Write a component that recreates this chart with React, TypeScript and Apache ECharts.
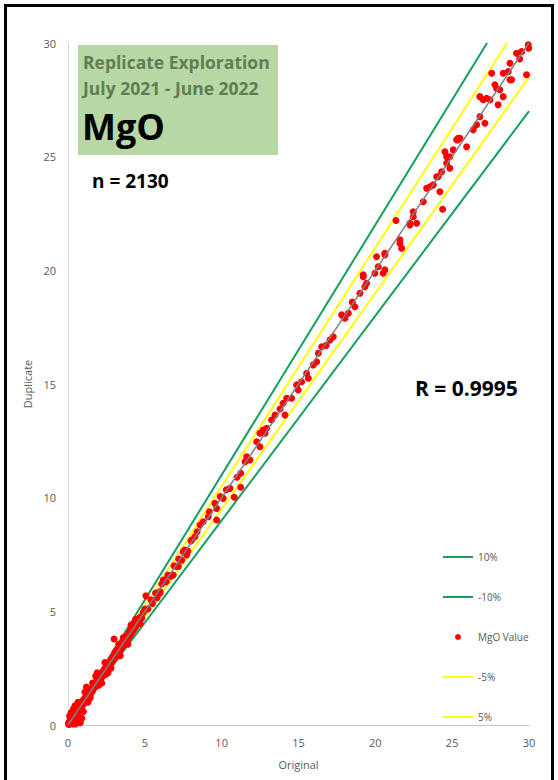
import React, { useEffect, useRef } from "react";
import * as echarts from "echarts";

const xTicks = [0, 5, 10, 15, 20, 25, 30];

const mgoValues: number[][] = [
  [0.02, 0.05], [0.05, 0.1], [0.06, 0.02], [0.08, 0.12], [0.1, 0.06], [0.12, 0.18], [0.14, 0.1], [0.15, 0.25],
  [0.18, 0.14], [0.2, 0.3], [0.21, 0.2], [0.24, 0.16], [0.25, 0.35], [0.27, 0.28], [0.3, 0.22], [0.31, 0.4],
  [0.33, 0.32], [0.36, 0.45], [0.38, 0.3], [0.4, 0.38], [0.42, 0.55], [0.44, 0.4], [0.46, 0.5], [0.48, 0.36],
  [0.5, 0.6], [0.52, 0.48], [0.55, 0.55], [0.57, 0.7], [0.6, 0.5], [0.62, 0.65], [0.64, 0.58], [0.66, 0.75],
  [0.7, 0.66], [0.72, 0.8], [0.74, 0.62], [0.76, 0.72], [0.8, 0.9], [0.82, 0.75], [0.85, 0.82], [0.88, 0.95],
  [0.9, 0.8], [0.93, 0.9], [0.96, 1.05], [0.98, 0.92], [0.2, 0.55], [0.35, 0.7], [0.6, 0.15], [0.8, 0.1],
  [0.5, 0.05], [0.9, 0.3], [0.1, 0.4], [0.3, 0.05], [0.45, 0.85], [0.7, 0.35], [0.65, 1.0], [1.0, 0.6],
  [1.0, 1.1], [1.05, 0.95], [1.1, 1.2], [1.15, 1.05], [1.2, 1.3], [1.25, 1.15], [1.3, 1.4], [1.35, 1.25],
  [1.4, 1.35], [1.45, 1.55], [1.5, 1.4], [1.55, 1.6], [1.6, 1.5], [1.65, 1.7], [1.7, 1.62], [1.75, 1.85],
  [1.8, 1.7], [1.85, 1.8], [1.9, 2.0], [1.95, 1.85], [2.0, 2.1], [2.05, 1.95], [2.1, 2.2], [2.15, 2.05],
  [2.2, 2.3], [2.25, 2.15], [2.3, 2.4], [2.35, 2.2], [2.4, 2.5], [2.45, 2.35], [2.5, 2.6], [2.55, 2.45],
  [2.6, 2.7], [2.65, 2.55], [2.7, 2.75], [2.75, 2.6], [2.8, 2.9], [2.85, 2.75], [2.9, 3.0], [2.95, 2.85],
  [1.2, 1.67], [2.2, 1.85], [1.8, 2.15], [2.6, 2.3], [3.0, 3.1], [1.3, 1.0], [1.6, 1.85], [2.0, 1.75],
  [2.4, 2.75], [1.1, 1.45], [1.45, 1.2], [2.8, 2.5], [1.9, 2.3], [2.5, 2.25],
  [3.0, 2.9], [3.05, 3.2], [3.1, 3.0], [3.15, 3.3], [3.2, 3.1], [3.25, 3.35], [3.3, 3.2], [3.35, 3.45],
  [3.4, 3.3], [3.45, 3.55], [3.5, 3.4], [3.55, 3.6], [3.6, 3.5], [3.65, 3.75], [3.7, 3.6], [3.75, 3.85],
  [3.8, 3.7], [3.85, 3.9], [3.9, 3.8], [3.95, 4.05], [4.0, 3.9], [4.05, 4.15], [4.1, 4.0], [4.15, 4.25],
  [4.2, 4.1], [4.25, 4.3], [4.3, 4.2], [4.35, 4.45], [4.4, 4.3], [4.5, 4.55], [4.6, 4.5], [4.7, 4.75],
  [4.8, 4.7], [4.9, 4.95], [3.0, 3.78], [3.4, 3.05], [4.1, 4.4], [4.58, 4.55], [3.6, 3.85], [3.9, 3.55],
  [3.3, 3.55], [4.4, 4.65], [4.7, 4.45],
  [5.0, 5.1], [5.07, 5.68], [5.2, 5.1], [5.4, 5.5], [5.5, 5.35], [5.7, 5.8], [5.8, 5.6], [5.99, 5.87],
  [6.1, 6.2], [6.2, 6.38], [6.4, 6.3], [6.5, 6.6], [6.7, 6.55], [6.9, 7.0], [7.07, 6.97], [7.2, 7.3],
  [7.4, 7.25], [7.6, 7.7], [7.8, 7.65], [8.0, 8.1], [5.99, 5.8], [6.3, 6.38], [6.85, 6.6], [7.18, 6.97],
  [7.5, 7.62], [7.72, 7.48], [8.05, 8.14], [8.26, 8.28], [8.59, 8.8], [8.8, 8.94], [9.13, 9.16], [9.2, 9.38],
  [9.56, 9.75], [9.67, 9.02], [9.67, 9.53], [10.1, 9.97], [10.54, 10.41], [10.82, 10.02], [11.24, 10.46],
  [11.24, 11.07], [11.52, 11.58], [11.63, 11.8], [11.84, 11.66], [12.28, 12.46], [12.49, 12.24],
  [12.82, 12.83], [12.93, 13.05], [8.4, 8.5], [9.9, 10.05], [10.3, 10.35], [11.0, 10.9],
  [12.49, 12.83], [12.7, 12.98], [13.25, 13.42], [13.47, 13.64], [14.0, 14.15], [14.23, 14.37], [14.12, 13.64],
  [14.55, 14.37], [14.88, 14.96], [14.98, 14.74], [15.53, 15.47], [15.64, 15.25], [15.96, 15.84],
  [16.18, 15.98], [16.29, 16.35], [16.51, 16.64], [17.05, 16.94], [17.26, 17.08], [17.81, 18.04],
  [18.02, 17.89], [18.24, 18.11], [18.67, 18.4], [19.0, 18.99], [19.21, 19.8], [19.32, 19.28], [19.43, 19.43],
  [13.8, 13.9], [15.2, 15.1], [16.8, 16.7], [18.5, 18.6],
  [19.21, 19.72], [19.97, 19.87], [20.08, 20.6], [20.19, 20.16], [20.62, 20.68], [20.51, 19.87],
  [21.6, 21.19], [21.71, 20.97], [21.34, 22.19], [22.25, 22.0], [22.47, 22.36], [22.69, 22.07],
  [23.12, 23.02], [23.34, 23.61], [23.77, 23.76], [24.2, 23.46], [24.09, 24.12], [24.38, 22.69],
  [24.31, 24.34], [24.64, 24.71], [24.85, 25.0], [24.53, 25.22], [25.07, 25.3], [25.29, 25.74], [25.5, 25.81],
  [20.62, 20.75], [20.62, 20.02], [21.6, 21.34], [22.25, 22.07], [22.47, 22.58], [23.55, 23.68],
  [23.99, 24.12], [24.85, 24.49], [24.64, 25.0], [25.94, 25.44], [25.39, 25.74],
  [25.39, 25.81], [26.37, 26.18], [26.59, 26.4], [27.13, 26.47], [26.81, 26.76], [27.24, 27.57],
  [27.46, 27.5], [27.99, 27.28], [28.1, 27.94], [28.32, 27.64], [27.78, 28.16], [27.57, 28.67],
  [28.32, 28.67], [28.65, 28.74], [28.87, 28.38], [29.84, 28.6], [29.19, 29.55], [29.52, 29.62],
  [29.95, 29.92], [29.98, 29.77], [28.76, 29.11], [26.8, 27.64], [27.02, 27.5], [27.89, 28.0],
  [28.76, 28.38], [29.4, 29.3]
];

const plus10: number[][] = [[0, 0], [27.27, 30]];
const minus10: number[][] = [[0, 0], [30, 27]];
const plus5: number[][] = [[0, 0], [28.57, 30]];
const minus5: number[][] = [[0, 0], [30, 28.5]];
const unity: number[][] = [[0, 0], [30, 30]];

const GREEN = "#14a05a";
const YELLOW = "#ffff00";
const FONT = "Open Sans";

export default function App() {
  const ref = useRef<HTMLDivElement>(null);
  useEffect(() => {
    if (!ref.current) return;
    const chart = echarts.init(ref.current, null, { renderer: "svg" });
    const hideSym = { itemStyle: { opacity: 0 } };
    chart.setOption({
      animation: false,
      backgroundColor: "#ffffff",
      textStyle: { fontFamily: FONT },
      grid: { left: 68, right: 29, top: 43, bottom: 55 },
      xAxis: {
        type: "value",
        min: xTicks[0],
        max: xTicks[xTicks.length - 1],
        interval: 5,
        name: "Original",
        nameLocation: "middle",
        nameGap: 34,
        nameTextStyle: { color: "#595959", fontSize: 11, fontFamily: FONT },
        axisLine: { show: true, lineStyle: { color: "#c8c8c8", width: 1 } },
        axisTick: { show: false },
        splitLine: { show: false },
        axisLabel: { color: "#595959", fontSize: 11, margin: 12, fontFamily: FONT },
      },
      yAxis: {
        type: "value",
        min: 0,
        max: 30,
        interval: 5,
        name: "Duplicate",
        nameLocation: "middle",
        nameGap: 32,
        nameRotate: 90,
        nameTextStyle: { color: "#595959", fontSize: 11, fontFamily: FONT },
        axisLine: { show: true, lineStyle: { color: "#d9d9d9", width: 1 } },
        axisTick: { show: false },
        splitLine: { show: false },
        axisLabel: { color: "#595959", fontSize: 11, margin: 12, fontFamily: FONT },
      },
      legend: {
        orient: "vertical",
        left: 437,
        top: 545,
        itemWidth: 30,
        itemHeight: 6,
        itemGap: 26,
        data: [
          { name: "10%", ...hideSym },
          { name: "-10%", ...hideSym },
          { name: "MgO Value" },
          { name: "-5%", ...hideSym },
          { name: "5%", ...hideSym },
        ],
        textStyle: { color: "#595959", fontSize: 10, lineHeight: 14, fontFamily: FONT },
      },
      series: [
        { name: "10%", type: "line", data: plus10, symbol: "none", lineStyle: { color: GREEN, width: 2 }, itemStyle: { color: GREEN }, z: 1 },
        { name: "-10%", type: "line", data: minus10, symbol: "none", lineStyle: { color: GREEN, width: 2 }, itemStyle: { color: GREEN }, z: 1 },
        { name: "-5%", type: "line", data: minus5, symbol: "none", lineStyle: { color: YELLOW, width: 2 }, itemStyle: { color: YELLOW }, z: 1 },
        { name: "5%", type: "line", data: plus5, symbol: "none", lineStyle: { color: YELLOW, width: 2 }, itemStyle: { color: YELLOW }, z: 1 },
        { name: "MgO Value", type: "scatter", data: mgoValues, symbol: "circle", symbolSize: 7, itemStyle: { color: "#ff0000", opacity: 1 }, z: 2 },
        { name: "Trend", type: "line", data: unity, symbol: "none", lineStyle: { color: "#808080", width: 1.5 }, z: 3, silent: true },
      ],
      graphic: [
        { type: "rect", shape: { x: 5.5, y: 5.5, width: 547, height: 776 }, style: { fill: "none", stroke: "#000000", lineWidth: 3 }, silent: true },
        { type: "rect", shape: { x: 78, y: 45, width: 200, height: 110 }, style: { fill: "#b7d7a4" }, z: 10 },
        { type: "text", left: 83, top: 53, style: { text: "Replicate Exploration", fontSize: 17.5, fontWeight: "bold", fill: "#5e7f54", fontFamily: FONT }, z: 11 },
        { type: "text", left: 83, top: 79, style: { text: "July 2021 - June 2022", fontSize: 17.5, fontWeight: "bold", fill: "#5e7f54", fontFamily: FONT }, z: 11 },
        { type: "text", left: 82, top: 108, style: { text: "MgO", fontSize: 36, fontWeight: "bold", fill: "#000000", fontFamily: FONT }, z: 11 },
        { type: "text", left: 92, top: 171, style: { text: "n = 2130", fontSize: 19, fontWeight: "bold", fill: "#000000", fontFamily: FONT }, z: 11 },
        { type: "text", left: 415, top: 377, style: { text: "R = 0.9995", fontSize: 21, fontWeight: "bold", fill: "#000000", fontFamily: FONT }, z: 11 },
      ],
    });
    return () => chart.dispose();
  }, []);
  return <div ref={ref} style={{ position: "fixed", left: 0, top: 0, width: 558, height: 780 }} />;
}
